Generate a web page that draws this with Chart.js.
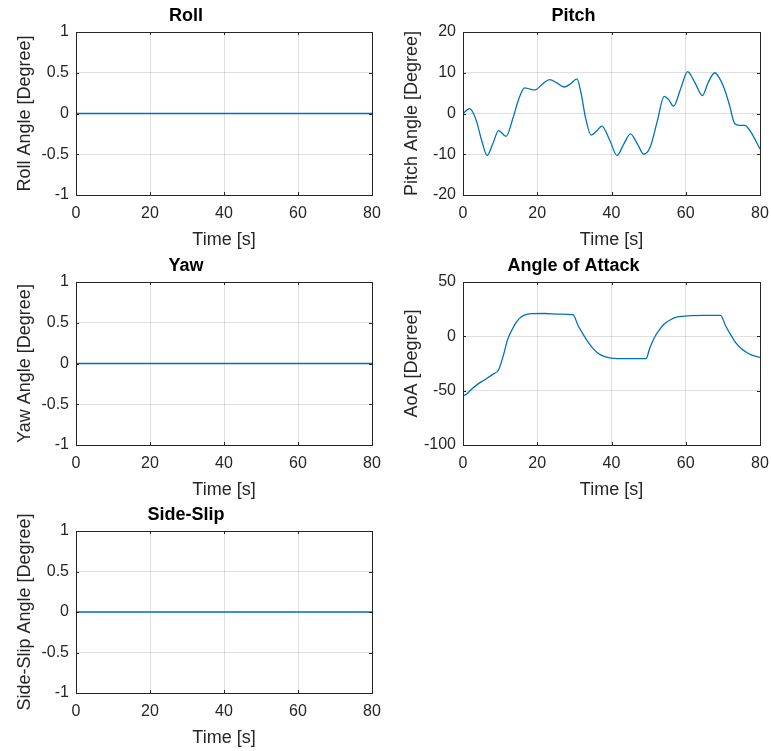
<!DOCTYPE html>
<html>
<head>
<meta charset="utf-8">
<script src="https://cdn.jsdelivr.net/npm/chart.js@4.4.0/dist/chart.umd.min.js"></script>
<style>
  body { margin: 0; background: #fff; width: 771px; height: 751px; overflow: hidden; position: relative; }
  .box { position: absolute; }
</style>
</head>
<body>
<div class="box" style="left:0px;top:0px"><canvas id="roll-chart" width="382" height="252"></canvas></div>
<div class="box" style="left:387px;top:0px"><canvas id="pitch-chart" width="383" height="252"></canvas></div>
<div class="box" style="left:0px;top:250px"><canvas id="yaw-chart" width="382" height="252"></canvas></div>
<div class="box" style="left:387px;top:250px"><canvas id="aoa-chart" width="383" height="252"></canvas></div>
<div class="box" style="left:0px;top:499px"><canvas id="slip-chart" width="382" height="251"></canvas></div>
<script>
Chart.defaults.font.family = '"Liberation Sans", Arial, sans-serif';
Chart.defaults.color = '#262626';

// flat channels (roll, yaw, side-slip)
let flatTime = [0, 10, 20, 30, 40, 50, 60, 70, 80];
let rollArray = [0, 0, 0, 0, 0, 0, 0, 0, 0];
let yawArray = [0, 0, 0, 0, 0, 0, 0, 0, 0];
let slipArray = [0, 0, 0, 0, 0, 0, 0, 0, 0];

// pitch angle
let pitchTime = [0, 1.8, 3.5, 5, 6.5, 8, 9.6, 11.6, 13.5, 15, 16.6, 18, 19.4, 21.5, 23.3, 25.3, 27.2, 29, 30.7,
    31.8, 33, 34.5, 36, 37.4, 39.5, 41.5, 43.3, 45.1, 47, 48.7, 50.4, 52.3, 54.2, 55.4, 56.7, 58.6, 60.5,
    62.5, 64.5, 66, 67.8, 69, 70.3, 71.8, 73.2, 74.5, 75.9, 77.5, 80];
let pitchArray = [0, 1.2, -1.5, -6.5, -10.3, -7.5, -4.2, -5.6, -1, 3.5, 6.3, 6, 5.8, 7.3, 8.3, 7.5, 6.5, 7.3, 8.5,
    5, -1, -5.3, -4.3, -3.1, -6.5, -10.3, -7.5, -5, -7.5, -10, -8.3, -2, 4.2, 3.4, 1.8, 6, 10.3,
    7.5, 4.4, 7.5, 10, 8.8, 6.3, 2, -2.5, -2.9, -2.9, -4.5, -8.7];

// angle of attack
let aoaTime = [0, 1, 2.2, 4, 5.8, 8, 9.6, 11, 12, 13, 14, 15.2, 16.5, 18.4, 22, 26, 29.6, 31, 32.7, 34.5, 36.3,
    38, 39.9, 44, 49.3, 50.3, 51.5, 52.8, 54.2, 56, 57.8, 61.4, 65, 69.4, 70.7, 72.1, 73.5, 74.8, 76, 77.5, 80];
let aoaArray = [-55, -53, -49, -44, -40, -35, -30.7, -16, -3, 4.6, 11, 16.5, 19.5, 20.9, 21, 20.5, 19.9, 10, 0, -9, -15.3,
    -18.5, -20, -20.5, -20.5, -11, -1.5, 5.5, 11.3, 15.5, 17.8, 19, 19.3, 19.3, 10, 1.5, -6, -10.7, -14, -16.9, -19.3];

const lineColor = '#0072BD';
const gridColor = 'rgba(38, 38, 38, 0.15)';

// matlab style axes box with inward ticks
const boxFrame = {
    id: 'boxFrame',
    afterDraw(chart) {
        const {ctx, chartArea: a, scales} = chart;
        ctx.save();
        ctx.strokeStyle = '#262626';
        ctx.lineWidth = 1;
        ctx.beginPath();
        scales.x.ticks.forEach(t => {
            const px = Math.round(scales.x.getPixelForValue(t.value)) + 0.5;
            ctx.moveTo(px, a.bottom); ctx.lineTo(px, a.bottom - 3);
            ctx.moveTo(px, a.top); ctx.lineTo(px, a.top + 3);
        });
        scales.y.ticks.forEach(t => {
            const py = Math.round(scales.y.getPixelForValue(t.value)) + 0.5;
            ctx.moveTo(a.left, py); ctx.lineTo(a.left + 3, py);
            ctx.moveTo(a.right, py); ctx.lineTo(a.right - 3, py);
        });
        ctx.stroke();
        ctx.strokeRect(Math.round(a.left) + 0.5, Math.round(a.top) + 0.5,
            Math.round(a.right - a.left), Math.round(a.bottom - a.top));
        ctx.restore();
    }
};

function makeChart(id, title, yLabel, xs, ys, yMin, yMax, yStep, smooth) {
    const ctx = document.getElementById(id).getContext('2d');
    return new Chart(ctx, {
        type: 'line',
        data: {
            datasets: [{
                data: xs.map((x, i) => ({x: x, y: ys[i]})),
                borderColor: lineColor,
                borderWidth: 1.3,
                pointRadius: 0,
                cubicInterpolationMode: smooth ? 'monotone' : 'default',
                tension: 0
            }]
        },
        options: {
            responsive: false,
            animation: false,
            layout: { padding: { left: 0, right: 10, top: 0, bottom: 0 } },
            scales: {
                x: {
                    type: 'linear',
                    min: 0,
                    max: 80,
                    ticks: { stepSize: 20, padding: 9, font: { size: 16 }, color: '#262626' },
                    grid: { color: gridColor, drawTicks: false },
                    border: { display: false },
                    title: { display: true, text: 'Time [s]', font: { size: 18 }, color: '#262626', padding: { top: 0, bottom: 1 } },
                    afterFit: (scale) => {
                        scale.height = 57;
                        scale.paddingLeft = 0;
                        scale.paddingRight = 9;
                    }
                },
                y: {
                    min: yMin,
                    max: yMax,
                    ticks: { stepSize: yStep, padding: 7, font: { size: 16 }, color: '#262626',
                        callback: (v) => String(v) },
                    grid: { color: gridColor, drawTicks: false },
                    border: { display: false },
                    title: { display: true, text: yLabel, font: { size: 18 }, color: '#262626', padding: { top: 14, bottom: 0 } },
                    afterFit: (scale) => { scale.width = 76; }
                }
            },
            plugins: {
                legend: { display: false },
                tooltip: { enabled: false },
                title: {
                    display: true,
                    text: title,
                    color: '#000',
                    font: { size: 18, weight: 'bold', lineHeight: 1.2 },
                    padding: { top: 5.5, bottom: 4.9 }
                }
            }
        },
        plugins: [boxFrame]
    });
}

let rollChart = makeChart('roll-chart', 'Roll', 'Roll Angle [Degree]', flatTime, rollArray, -1, 1, 0.5, false);
let pitchChart = makeChart('pitch-chart', 'Pitch', 'Pitch Angle [Degree]', pitchTime, pitchArray, -20, 20, 10, true);
let yawChart = makeChart('yaw-chart', 'Yaw', 'Yaw Angle [Degree]', flatTime, yawArray, -1, 1, 0.5, false);
let aoaChart = makeChart('aoa-chart', 'Angle of Attack', 'AoA [Degree]', aoaTime, aoaArray, -100, 50, 50, true);
let slipChart = makeChart('slip-chart', 'Side-Slip', 'Side-Slip Angle [Degree]', flatTime, slipArray, -1, 1, 0.5, false);
</script>
</body>
</html>
